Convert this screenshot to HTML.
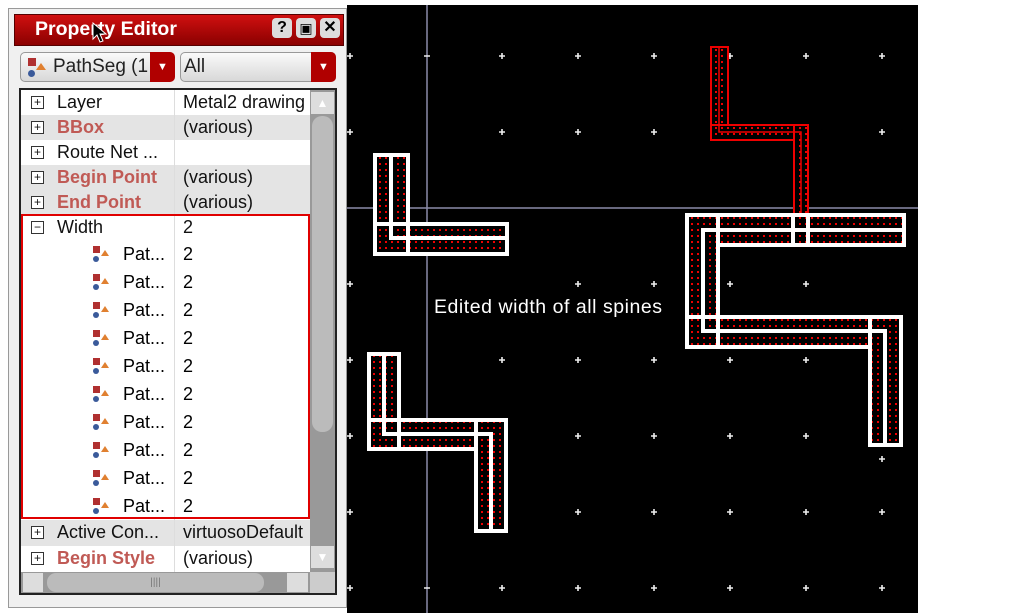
<!DOCTYPE html>
<html><head><meta charset="utf-8"><style>
body{margin:0;width:1013px;height:613px;background:#fff;position:relative;overflow:hidden;font-family:"Liberation Sans",sans-serif}
.a{position:absolute}
.row{position:absolute;left:21px;width:289px;height:25px;font-size:18px;line-height:25px;color:#111}
.row .k{position:absolute;left:36px;top:0;white-space:nowrap}
.row .v{position:absolute;left:162px;top:0;white-space:nowrap;overflow:hidden;width:127px}
.row .bx{position:absolute;left:10px;top:6px;width:11px;height:11px;border:1px solid #333;background:#fff;font-size:12px;line-height:11px;text-align:center}
.row .dv{position:absolute;left:153px;top:0;width:1px;height:100%;background:#ddd}
.red{color:#c05a55;font-weight:bold}
.g{background:#e4e4e4}
.pr{position:absolute;left:21px;width:289px;height:28px;font-size:18px;line-height:28px;border-bottom:1px solid #ddd;background:#fff}
.pr .k{position:absolute;left:102px}
.pr .v{position:absolute;left:162px}
.pr .dv{position:absolute;left:153px;top:0;width:1px;height:100%;background:#ddd}
.ic{position:absolute;left:72px;top:6px;width:16px;height:16px}
</style></head><body>
<div class="a" style="left:347px;top:5px;width:571px;height:608px;background:#000"></div>
<svg class="a" style="left:0;top:0" width="1013" height="613">
<defs><pattern id="d" width="6" height="6" patternUnits="userSpaceOnUse"><rect width="6" height="6" fill="#000"/><rect x="1" y="1" width="2" height="2" fill="#e00"/></pattern></defs>
<line x1="427" y1="5" x2="427" y2="613" stroke="#8a8aa8" stroke-width="1.5"/>
<line x1="347" y1="208" x2="918" y2="208" stroke="#8a8aa8" stroke-width="1.5"/>
<g stroke="#eee" stroke-width="1.6">
<path d="M347 56h6M350 53v6M424 56h6M499 56h6M502 53v6M575 56h6M578 53v6M651 56h6M654 53v6M727 56h6M730 53v6M803 56h6M806 53v6M879 56h6M882 53v6
M347 132h6M350 129v6M499 132h6M502 129v6M575 132h6M578 129v6M651 132h6M654 129v6M879 132h6M882 129v6
M347 284h6M350 281v6M575 284h6M578 281v6M651 284h6M654 281v6M727 284h6M730 281v6M803 284h6M806 281v6
M347 360h6M350 357v6M499 360h6M502 357v6M575 360h6M578 357v6M651 360h6M654 357v6M727 360h6M730 357v6M803 360h6M806 357v6
M347 436h6M350 433v6M575 436h6M578 433v6M651 436h6M654 433v6M727 436h6M730 433v6M803 436h6M806 433v6M879 459h6M882 456v6
M347 512h6M350 509v6M575 512h6M578 509v6M651 512h6M654 509v6M727 512h6M730 509v6M803 512h6M806 509v6M879 512h6M882 509v6
M347 588h6M350 585v6M424 588h6M499 588h6M502 585v6M575 588h6M578 585v6M651 588h6M654 585v6M727 588h6M730 585v6M803 588h6M806 585v6M879 588h6M882 585v6"/>
</g>
<g fill="url(#d)" stroke="#e00" stroke-width="2">
<rect x="711" y="47" width="17" height="93"/>
<rect x="711" y="125" width="97" height="15"/>
<rect x="794" y="125" width="14" height="95"/>
</g>
<polyline points="719,47 719,132 801,132 801,220" fill="none" stroke="#e00" stroke-width="1.5"/>
<g fill="url(#d)" stroke="#fff" stroke-width="4">
<rect x="375" y="155" width="33" height="99"/>
<rect x="375" y="224" width="132" height="30"/>
<rect x="369" y="354" width="30" height="95"/>
<rect x="369" y="420" width="137" height="29"/>
<rect x="476" y="420" width="30" height="111"/>
<rect x="687" y="215" width="217" height="30"/>
<rect x="687" y="215" width="31" height="132"/>
<rect x="687" y="317" width="214" height="30"/>
<rect x="870" y="317" width="31" height="128"/>
</g>
<g fill="none" stroke="#fff" stroke-width="4">
<polyline points="391,155 391,238 507,238"/>
<polyline points="384,354 384,434 491,434 491,531"/>
<polyline points="904,230 703,230 703,331 885,331 885,445"/>
<line x1="408" y1="224" x2="408" y2="254"/>
<line x1="718" y1="317" x2="718" y2="347"/>
<line x1="399" y1="420" x2="399" y2="449"/>
<line x1="476" y1="420" x2="476" y2="449"/>
<line x1="870" y1="317" x2="870" y2="347"/>
<line x1="793" y1="215" x2="793" y2="245"/>
<line x1="808" y1="215" x2="808" y2="245"/>
</g>
<text x="434" y="313" fill="#fff" font-size="19.5" font-family="Liberation Sans,sans-serif" textLength="228">Edited width of all spines</text>
</svg>
<div class="a" style="left:8px;top:8px;width:339px;height:600px;background:#f0f0f0;border:1px solid #999;box-sizing:border-box"></div>
<div class="a" style="left:14px;top:14px;width:328px;height:30px;background:linear-gradient(#d01010,#8a0000);border:1px solid #500"></div>
<div class="a" style="left:35px;top:15px;color:#fff;font-weight:bold;font-size:19.5px;line-height:28px">Property Editor</div>
<div class="a" style="left:272px;top:18px;width:20px;height:20px;background:#ddd;border-radius:4px;font-weight:bold;text-align:center;line-height:20px;font-size:16px">?</div>
<div class="a" style="left:296px;top:18px;width:20px;height:20px;background:#ddd;border-radius:4px;text-align:center;line-height:20px;font-size:14px">▣</div>
<div class="a" style="left:320px;top:18px;width:20px;height:20px;background:#ddd;border-radius:4px;text-align:center;line-height:20px;font-size:16px;font-weight:bold">✕</div>
<div class="a" style="left:20px;top:52px;width:154px;height:30px;background:linear-gradient(#fafafa,#d8d8d8);border:1px solid #999;border-radius:5px;box-sizing:border-box"></div>
<div class="a" style="left:28px;top:58px;width:8px;height:8px;background:#b03030"></div>
<div class="a" style="left:28px;top:70px;width:7px;height:7px;border-radius:50%;background:#3a5a9a"></div>
<div class="a" style="left:36px;top:63px;width:0;height:0;border-left:5px solid transparent;border-right:5px solid transparent;border-bottom:7px solid #e08030"></div>
<div class="a" style="left:53px;top:52px;font-size:19px;line-height:30px;color:#222">PathSeg (1</div>
<div class="a" style="left:150px;top:52px;width:25px;height:30px;background:#b00000;border-radius:0 5px 5px 0;color:#fff;text-align:center;line-height:30px;font-size:11px">▼</div>
<div class="a" style="left:180px;top:52px;width:156px;height:30px;background:linear-gradient(#fafafa,#d8d8d8);border:1px solid #999;border-radius:5px;box-sizing:border-box"></div>
<div class="a" style="left:184px;top:52px;font-size:19px;line-height:30px;color:#222">All</div>
<div class="a" style="left:311px;top:52px;width:25px;height:30px;background:#b00000;border-radius:0 5px 5px 0;color:#fff;text-align:center;line-height:30px;font-size:11px">▼</div>
<div class="a" style="left:19px;top:88px;width:318px;height:507px;background:#fff;border:2px solid #222;box-sizing:border-box"></div>
<div class="row" style="top:90px"><div class="bx">+</div><div class="k">Layer</div><div class="dv"></div><div class="v">Metal2 drawing</div></div>
<div class="row g" style="top:115px"><div class="bx">+</div><div class="k red">BBox</div><div class="dv"></div><div class="v">(various)</div></div>
<div class="row" style="top:140px"><div class="bx">+</div><div class="k">Route Net ...</div><div class="dv"></div></div>
<div class="row g" style="top:165px"><div class="bx">+</div><div class="k red">Begin Point</div><div class="dv"></div><div class="v">(various)</div></div>
<div class="row g" style="top:190px"><div class="bx">+</div><div class="k red">End Point</div><div class="dv"></div><div class="v">(various)</div></div>
<div class="row" style="top:215px"><div class="bx">−</div><div class="k">Width</div><div class="dv"></div><div class="v">2</div></div>
<div class="pr" style="top:240px"><svg class="ic"><rect x="0" y="0" width="7" height="7" fill="#b03030"/><circle cx="3" cy="13" r="3" fill="#3a5a9a"/><path d="M8 10l4-6 4 6z" fill="#e08030"/></svg><div class="k">Pat...</div><div class="dv"></div><div class="v">2</div></div>
<div class="pr" style="top:268px"><svg class="ic"><rect x="0" y="0" width="7" height="7" fill="#b03030"/><circle cx="3" cy="13" r="3" fill="#3a5a9a"/><path d="M8 10l4-6 4 6z" fill="#e08030"/></svg><div class="k">Pat...</div><div class="dv"></div><div class="v">2</div></div>
<div class="pr" style="top:296px"><svg class="ic"><rect x="0" y="0" width="7" height="7" fill="#b03030"/><circle cx="3" cy="13" r="3" fill="#3a5a9a"/><path d="M8 10l4-6 4 6z" fill="#e08030"/></svg><div class="k">Pat...</div><div class="dv"></div><div class="v">2</div></div>
<div class="pr" style="top:324px"><svg class="ic"><rect x="0" y="0" width="7" height="7" fill="#b03030"/><circle cx="3" cy="13" r="3" fill="#3a5a9a"/><path d="M8 10l4-6 4 6z" fill="#e08030"/></svg><div class="k">Pat...</div><div class="dv"></div><div class="v">2</div></div>
<div class="pr" style="top:352px"><svg class="ic"><rect x="0" y="0" width="7" height="7" fill="#b03030"/><circle cx="3" cy="13" r="3" fill="#3a5a9a"/><path d="M8 10l4-6 4 6z" fill="#e08030"/></svg><div class="k">Pat...</div><div class="dv"></div><div class="v">2</div></div>
<div class="pr" style="top:380px"><svg class="ic"><rect x="0" y="0" width="7" height="7" fill="#b03030"/><circle cx="3" cy="13" r="3" fill="#3a5a9a"/><path d="M8 10l4-6 4 6z" fill="#e08030"/></svg><div class="k">Pat...</div><div class="dv"></div><div class="v">2</div></div>
<div class="pr" style="top:408px"><svg class="ic"><rect x="0" y="0" width="7" height="7" fill="#b03030"/><circle cx="3" cy="13" r="3" fill="#3a5a9a"/><path d="M8 10l4-6 4 6z" fill="#e08030"/></svg><div class="k">Pat...</div><div class="dv"></div><div class="v">2</div></div>
<div class="pr" style="top:436px"><svg class="ic"><rect x="0" y="0" width="7" height="7" fill="#b03030"/><circle cx="3" cy="13" r="3" fill="#3a5a9a"/><path d="M8 10l4-6 4 6z" fill="#e08030"/></svg><div class="k">Pat...</div><div class="dv"></div><div class="v">2</div></div>
<div class="pr" style="top:464px"><svg class="ic"><rect x="0" y="0" width="7" height="7" fill="#b03030"/><circle cx="3" cy="13" r="3" fill="#3a5a9a"/><path d="M8 10l4-6 4 6z" fill="#e08030"/></svg><div class="k">Pat...</div><div class="dv"></div><div class="v">2</div></div>
<div class="pr" style="top:492px"><svg class="ic"><rect x="0" y="0" width="7" height="7" fill="#b03030"/><circle cx="3" cy="13" r="3" fill="#3a5a9a"/><path d="M8 10l4-6 4 6z" fill="#e08030"/></svg><div class="k">Pat...</div><div class="dv"></div><div class="v">2</div></div>
<div class="a" style="left:21px;top:214px;width:289px;height:305px;border:2px solid #e00000;box-sizing:border-box"></div>
<div class="row g" style="top:520px;height:26px"><div class="bx">+</div><div class="k">Active Con...</div><div class="dv"></div><div class="v">virtuosoDefault</div></div>
<div class="row" style="top:546px;height:26px"><div class="bx">+</div><div class="k red">Begin Style</div><div class="dv"></div><div class="v">(various)</div></div>
<div class="a" style="left:310px;top:90px;width:25px;height:482px;background:#999"></div>
<div class="a" style="left:311px;top:92px;width:23px;height:22px;background:#ddd;color:#fff;text-align:center;font-size:12px;line-height:22px">▲</div>
<div class="a" style="left:312px;top:116px;width:21px;height:316px;background:#bbb;border-radius:10px"></div>
<div class="a" style="left:311px;top:546px;width:23px;height:22px;background:#ddd;color:#fff;text-align:center;font-size:12px;line-height:22px">▼</div>
<div class="a" style="left:21px;top:572px;width:289px;height:21px;background:#999"></div>
<div class="a" style="left:23px;top:573px;width:20px;height:19px;background:#ddd"></div>
<div class="a" style="left:47px;top:573px;width:217px;height:19px;background:#bbb;border-radius:9px;text-align:center;font-size:10px;line-height:19px;color:#777">||||</div>
<div class="a" style="left:287px;top:573px;width:21px;height:19px;background:#ddd"></div>
<div class="a" style="left:310px;top:572px;width:25px;height:21px;background:#ccc"></div>
<svg class="a" style="left:92px;top:22px" width="16" height="22"><path d="M1 1v16l4-4 3 7 3-1-3-7h6z" fill="#000" stroke="#fff" stroke-width="1"/></svg>
</body></html>
